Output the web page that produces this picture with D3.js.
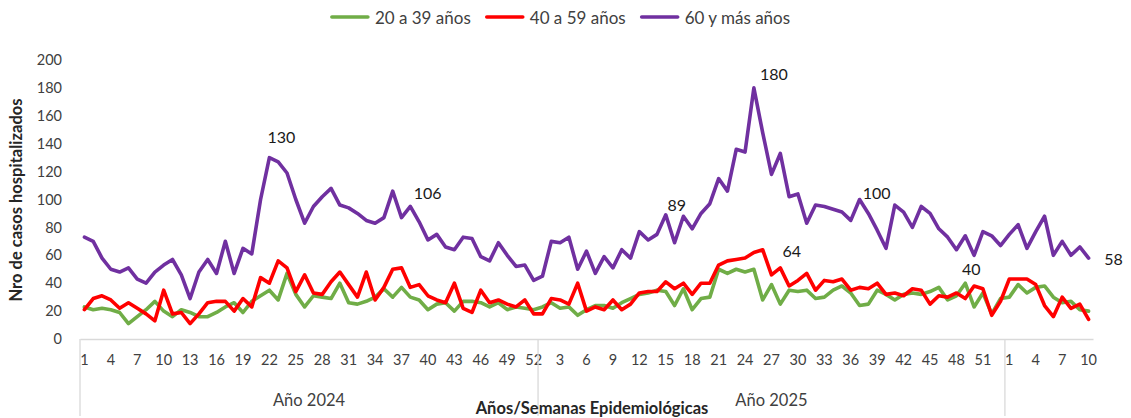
<!DOCTYPE html>
<html>
<head>
<meta charset="utf-8">
<script src="https://cdn.jsdelivr.net/npm/d3@7"></script>
<style>
  body { margin: 0; background: #ffffff; }
  svg { display: block; font-family: Lato, "Open Sans", sans-serif; }
</style>
</head>
<body>
<svg id="chart" width="1131" height="418"></svg>
<script>
// ---------------- DATA ----------------
const seriesNames = ["20 a 39 años", "40 a 59 años", "60 y más años"];
const yearLabels = ["Año 2024", "Año 2025", ""];
const weeksPerYear = [52, 53, 10];
const yTickValues = [0, 20, 40, 60, 80, 100, 120, 140, 160, 180, 200];

// 20 a 39 años
const g20_2024 = [23,21,22,21,19,11,16,21,27,20,16,21,19,16,16,19,23,26,19,27,31,35,28,47,32,23,31,30,29,40,26,25,27,30,36,30,37,30,28,21,25,26,20,27,27,26,23,26,21,23,22,21];
const g20_2025 = [23,26,22,23,17,21,24,24,22,26,29,32,33,35,34,24,36,21,29,30,50,47,50,48,50,28,39,25,35,34,35,29,30,35,38,33,24,25,35,32,28,32,33,32,34,37,28,31,40,23,33,18,29];
const g20_2026 = [30,39,33,37,38,30,26,27,21,20];

// 40 a 59 años
const g40_2024 = [21,29,31,28,22,26,22,18,13,35,18,19,11,18,26,27,27,20,29,23,44,40,56,51,34,46,33,32,41,48,39,30,48,28,37,50,51,37,39,31,28,26,40,22,19,35,26,28,25,23,28,18];
const g40_2025 = [18,29,28,25,40,20,23,21,28,21,25,33,34,34,41,36,40,32,40,40,53,56,57,58,62,64,46,51,38,42,47,35,42,41,43,35,37,36,40,32,33,31,36,35,25,31,30,33,29,38,36,17,27];
const g40_2026 = [43,43,43,39,24,16,30,22,25,14];

// 60 y más años
const g60_2024 = [73,70,58,50,48,51,43,40,48,53,57,46,29,48,57,47,70,47,65,61,100,130,127,119,100,83,95,102,108,96,94,90,85,83,87,106,87,95,84,71,75,66,64,73,72,59,56,69,60,52,53,42];
const g60_2025 = [45,70,69,73,50,63,47,59,51,64,58,77,71,75,89,69,88,79,90,97,115,106,136,134,180,148,118,133,102,104,83,96,95,93,91,85,100,90,78,65,96,91,80,95,90,79,73,64,74,60,77,74,67];
const g60_2026 = [75,82,65,77,88,60,70,60,66,58];

// Data labels shown on the chart: [series index, category index, text]
const dataLabels = [
  [2, 21, "130"], [2, 35, "106"], [2, 66, "89"], [2, 76, "180"],
  [1, 77, "64"], [2, 88, "100"], [0, 100, "40"], [2, 114, "58"]
];

// ---------------- CHART ----------------
const series = [
  g20_2024.concat(g20_2025, g20_2026),
  g40_2024.concat(g40_2025, g40_2026),
  g60_2024.concat(g60_2025, g60_2026)
];
const colors = ["#70AD47", "#FF0000", "#7030A0"];
const textColor = "#404040";
const axisColor = "#d9d9d9";

const svg = d3.select("#chart");

const cats = [];
weeksPerYear.forEach((n, yi) => { for (let w = 1; w <= n; w++) cats.push({ yi, w, key: yi + "-" + w }); });

const x = d3.scaleBand().domain(cats.map(d => d.key)).range([80, 1093]).padding(0);
const cx = i => x(cats[i].key) + x.bandwidth() / 2;
const y = d3.scaleLinear().domain([0, 200]).range([339, 60]);

// Y axis (labels only)
const yAxis = svg.append("g").attr("transform", "translate(80,0)")
  .call(d3.axisLeft(y).tickValues(yTickValues).tickSize(0).tickPadding(18));
yAxis.select(".domain").remove();
yAxis.selectAll("text").attr("fill", textColor).style("font-size", "14.5px").style("font-family", "Lato, sans-serif");

// X axis
const xAxis = svg.append("g").attr("transform", "translate(0,339)")
  .call(d3.axisBottom(x)
    .tickValues(cats.filter((d, i) => i % 3 === 0).map(d => d.key))
    .tickFormat(k => String(cats.find(c => c.key === k).w))
    .tickSize(0).tickSizeOuter(0).tickPadding(16));
xAxis.select(".domain").attr("stroke", axisColor).attr("stroke-width", 1.3);
xAxis.selectAll("text").attr("fill", textColor).style("font-size", "14.5px").style("font-family", "Lato, sans-serif");

// Group separators and year labels
let start = 0;
weeksPerYear.forEach((n, yi) => {
  const x0 = x(cats[start].key);
  const x1 = x(cats[start + n - 1].key) + x.bandwidth();
  svg.append("line").attr("x1", x0).attr("x2", x0).attr("y1", 339).attr("y2", 416)
    .attr("stroke", axisColor).attr("stroke-width", 1.3);
  if (yearLabels[yi]) {
    svg.append("text").attr("x", (x0 + x1) / 2).attr("y", 406)
      .attr("text-anchor", "middle").attr("fill", textColor)
      .style("font-size", "16.5px").text(yearLabels[yi]);
  }
  start += n;
});

// Axis titles
svg.append("text").attr("transform", "translate(22,200) rotate(-90)")
  .attr("text-anchor", "middle").attr("fill", "#262626")
  .style("font-size", "16.5px").style("font-weight", "bold")
  .text("Nro de casos hospitalizados");
svg.append("text").attr("x", 592).attr("y", 414)
  .attr("text-anchor", "middle").attr("fill", "#262626")
  .style("font-size", "16.5px").style("font-weight", "bold")
  .text("Años/Semanas Epidemiológicas");

// Lines
const line = d3.line().x((d, i) => cx(i)).y(d => y(d));
series.forEach((s, si) => {
  svg.append("path").datum(s).attr("d", line)
    .attr("fill", "none").attr("stroke", colors[si]).attr("stroke-width", 3.6)
    .attr("stroke-linejoin", "round").attr("stroke-linecap", "round");
});

// Data labels
const labelOffsets = {
  "2-21": [12, -21], "2-35": [35, 1], "2-66": [11, -10], "2-76": [20, -14],
  "1-77": [29, 1], "2-88": [17, -7], "0-100": [6, -15], "2-114": [25, 0]
};
dataLabels.forEach(([si, i, t]) => {
  const off = labelOffsets[si + "-" + i] || [0, -14];
  svg.append("text").attr("x", cx(i) + off[0]).attr("y", y(series[si][i]) + off[1])
    .attr("text-anchor", "middle").attr("dominant-baseline", "central")
    .attr("fill", "#1a1a1a").style("font-size", "16px").text(t);
});

// Legend
const legend = svg.append("g");
let lx = 0;
seriesNames.forEach((name, si) => {
  const g = legend.append("g").attr("transform", `translate(${lx},0)`);
  g.append("line").attr("x1", 0).attr("x2", 36).attr("y1", 0).attr("y2", 0)
    .attr("stroke", colors[si]).attr("stroke-width", 3.6).attr("stroke-linecap", "round");
  const t = g.append("text").attr("x", 43).attr("y", 0).attr("dominant-baseline", "central")
    .attr("fill", textColor).style("font-size", "17px").text(name);
  lx += 43 + t.node().getComputedTextLength() + 16;
});
const lw = lx - 16;
legend.attr("transform", `translate(${561 - lw / 2},17)`);
</script>
</body>
</html>
